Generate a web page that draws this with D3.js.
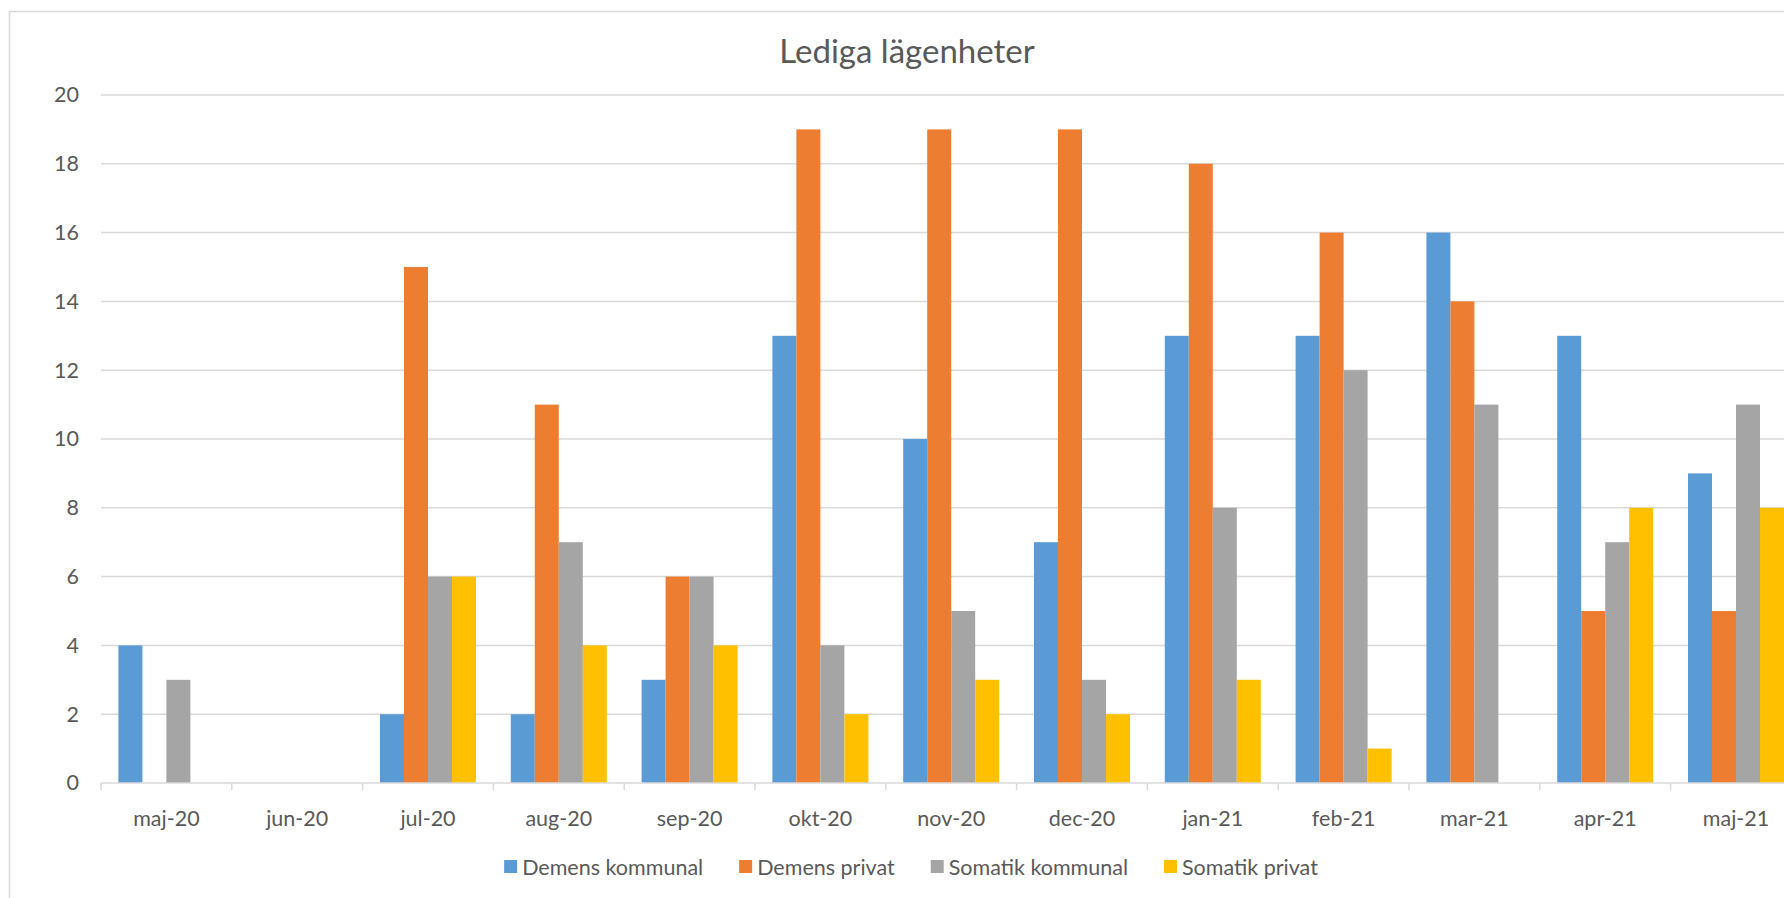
<!DOCTYPE html>
<html>
<head>
<meta charset="utf-8">
<script src="https://cdn.jsdelivr.net/npm/d3@7"></script>
<style>
  body { margin: 0; background: #fff; }
  svg { display: block; font-family: Lato, "Liberation Sans", sans-serif; }
</style>
</head>
<body>
<svg width="1784" height="898"></svg>
<script>
// data
const months = ["maj-20", "jun-20", "jul-20", "aug-20", "sep-20", "okt-20", "nov-20",
  "dec-20", "jan-21", "feb-21", "mar-21", "apr-21", "maj-21"];
const seriesNames = ["Demens kommunal", "Demens privat", "Somatik kommunal", "Somatik privat"];
const demensKommunal = [4, 0, 2, 2, 3, 13, 10, 7, 13, 13, 16, 13, 9];
const demensPrivat = [0, 0, 15, 11, 6, 19, 19, 19, 18, 16, 14, 5, 5];
const somatikKommunal = [3, 0, 6, 7, 6, 4, 5, 3, 8, 12, 11, 7, 11];
const somatikPrivat = [0, 0, 6, 4, 4, 2, 3, 2, 3, 1, 0, 8, 8];
const yTicks = [0, 2, 4, 6, 8, 10, 12, 14, 16, 18, 20];
const colors = ["#5B9BD5", "#ED7D31", "#A5A5A5", "#FFC000"];

const allSeries = [demensKommunal, demensPrivat, somatikKommunal, somatikPrivat];
const rows = months.map((m, i) => ({
  month: m,
  values: allSeries.map((s, j) => ({ key: seriesNames[j], value: s[i] }))
}));

const svg = d3.select("svg");
const textColor = "#595959";
const gridColor = "#D9D9D9";
const fontFamily = 'Lato, "Liberation Sans", sans-serif';

// chart frame (runs off the right and bottom edge like the reference)
svg.append("rect")
  .attr("x", 9.5)
  .attr("y", 11.5)
  .attr("width", 1800)
  .attr("height", 900)
  .attr("fill", "white")
  .attr("stroke", gridColor)
  .attr("stroke-width", 1.5);

// scales
const plotLeft = 101;
const step = 130.8;
const x = d3.scaleBand()
  .domain(months)
  .range([plotLeft, plotLeft + step * months.length])
  .padding(0);

const xSeries = d3.scaleBand()
  .domain(seriesNames)
  .range([0, x.bandwidth()])
  .paddingInner(0)
  .paddingOuter(0.725);

const y = d3.scaleLinear()
  .domain([0, 20])
  .range([783, 95]);

// gridlines
svg.append("g")
  .selectAll("line")
  .data(yTicks.filter(t => t > 0))
  .join("line")
  .attr("x1", plotLeft)
  .attr("x2", 1784)
  .attr("y1", d => y(d))
  .attr("y2", d => y(d))
  .attr("stroke", gridColor)
  .attr("stroke-width", 1.5);

// y axis labels
const yAxis = svg.append("g")
  .attr("transform", `translate(${plotLeft},0)`)
  .call(d3.axisLeft(y).tickValues(yTicks).tickSize(0).tickPadding(22))
  .attr("font-family", fontFamily);
yAxis.select(".domain").remove();
yAxis.selectAll("text")
  .attr("fill", textColor)
  .style("font-size", "21.5px");

// bars
svg.append("g")
  .selectAll("g")
  .data(rows)
  .join("g")
  .attr("transform", d => `translate(${x(d.month)},0)`)
  .selectAll("rect")
  .data(d => d.values)
  .join("rect")
  .attr("x", d => xSeries(d.key))
  .attr("y", d => y(d.value))
  .attr("width", xSeries.bandwidth())
  .attr("height", d => y(0) - y(d.value))
  .attr("fill", (d, i) => colors[i]);

// x axis
const xAxis = svg.append("g")
  .attr("transform", `translate(0,${y(0)})`)
  .call(d3.axisBottom(x).tickSize(0).tickPadding(28))
  .attr("font-family", fontFamily);
xAxis.select(".domain")
  .attr("d", `M${plotLeft},0H1784`)
  .attr("stroke", gridColor)
  .attr("stroke-width", 1.5);
xAxis.selectAll("text")
  .attr("fill", textColor)
  .style("font-size", "21.5px");

// category separators
svg.append("g")
  .selectAll("line")
  .data(months)
  .join("line")
  .attr("x1", d => x(d))
  .attr("x2", d => x(d))
  .attr("y1", y(0))
  .attr("y2", y(0) + 7)
  .attr("stroke", gridColor)
  .attr("stroke-width", 1.5);

// title
svg.append("text")
  .attr("x", 907)
  .attr("y", 63)
  .attr("text-anchor", "middle")
  .attr("fill", textColor)
  .style("font-size", "33px")
  .text("Lediga lägenheter");

// legend
const legend = svg.append("g");
const items = legend.selectAll("g")
  .data(seriesNames)
  .join("g");
items.append("rect")
  .attr("width", 13)
  .attr("height", 13)
  .attr("y", -7)
  .attr("fill", (d, i) => colors[i]);
items.append("text")
  .attr("x", 18)
  .attr("dy", "0.35em")
  .attr("fill", textColor)
  .style("font-size", "21.5px")
  .text(d => d);

let offset = 0;
items.each(function () {
  const g = d3.select(this);
  g.attr("transform", `translate(${offset},867)`);
  offset += 18 + g.select("text").node().getComputedTextLength() + 36;
});
const legendWidth = offset - 36;
legend.attr("transform", `translate(${911 - legendWidth / 2},0)`);
</script>
</body>
</html>
